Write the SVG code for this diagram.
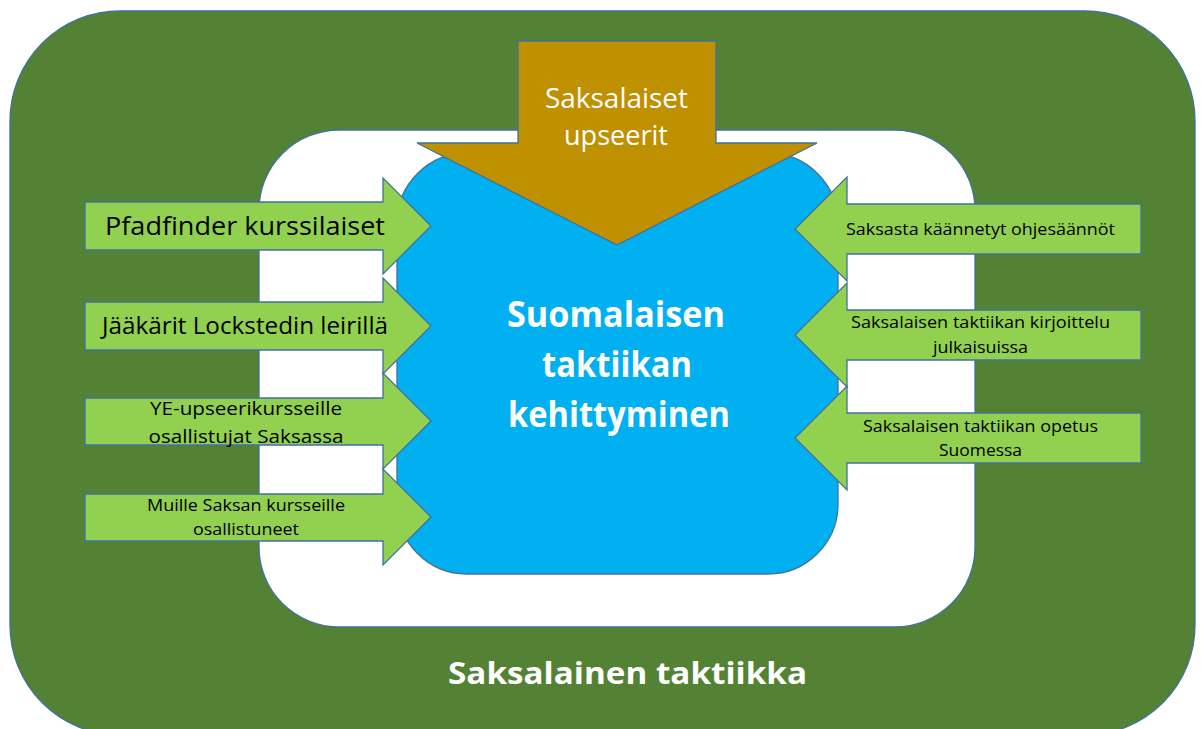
<svg xmlns="http://www.w3.org/2000/svg" width="1201" height="729" viewBox="0 0 1201 729">
<style>
.sh{stroke:#41719C;stroke-width:1.3}
.outer{fill:#548235}
.inner{fill:#FFFFFF}
.core{fill:#00B0F0}
.gold{fill:#BF9000}
.arr{fill:#92D050}
.t{font-family:"Open Sans","Noto Sans","Liberation Sans",sans-serif;text-anchor:middle}
.dk{fill:#000000}
.wh{fill:#FFFFFF}
.b{font-weight:bold}
</style>
<rect width="1201" height="729" fill="#FFFFFF"/>
<g id="outer-context">
<rect class="outer sh" x="10" y="11" width="1185" height="724" rx="110" ry="110"/>
<text class="t wh b" x="627.5" y="684" font-size="30" textLength="359" lengthAdjust="spacingAndGlyphs">Saksalainen taktiikka</text>
</g>
<g id="inner-area">
<rect class="inner sh" x="259" y="130" width="716" height="497" rx="80" ry="80"/>
</g>
<g id="core">
<rect class="core sh" x="397" y="153" width="441" height="421" rx="70" ry="70"/>
<text class="t wh b" x="616" y="327" font-size="35" textLength="218" lengthAdjust="spacingAndGlyphs">Suomalaisen</text>
<text class="t wh b" x="617" y="377" font-size="35" textLength="150" lengthAdjust="spacingAndGlyphs">taktiikan</text>
<text class="t wh b" x="619" y="427" font-size="35" textLength="222" lengthAdjust="spacingAndGlyphs">kehittyminen</text>
</g>
<g id="connectors">
<g id="gold-arrow">
<polygon class="gold sh" points="518,41 716,41 716,143 817,143 617,245 417,143 518,143"/>
<text class="t wh" x="616.5" y="108" font-size="27" textLength="143" lengthAdjust="spacingAndGlyphs">Saksalaiset</text>
<text class="t wh" x="616" y="145" font-size="27" textLength="104" lengthAdjust="spacingAndGlyphs">upseerit</text>
</g>
<g id="arrow-l1">
<polygon class="arr sh" points="85,202 383,202 383,178 431,226 383,274 383,250 85,250"/>
<text class="t dk" x="245" y="235" font-size="25" textLength="280" lengthAdjust="spacingAndGlyphs">Pfadfinder kurssilaiset</text>
</g>
<g id="arrow-l2">
<polygon class="arr sh" points="85,302 383,302 383,278 431,326 383,374 383,350 85,350"/>
<text class="t dk" x="245" y="334" font-size="23" textLength="286" lengthAdjust="spacingAndGlyphs">Jääkärit Lockstedin leirillä</text>
</g>
<g id="arrow-l3">
<polygon class="arr sh" points="85,398 383,398 383,373 431,421 383,469 383,445 85,445"/>
<text class="t dk" x="246" y="415" font-size="19" textLength="192" lengthAdjust="spacingAndGlyphs">YE-upseerikursseille</text>
<text class="t dk" x="246" y="443" font-size="19" textLength="195" lengthAdjust="spacingAndGlyphs">osallistujat Saksassa</text>
</g>
<g id="arrow-l4">
<polygon class="arr sh" points="85,494 383,494 383,469 431,517 383,565 383,541 85,541"/>
<text class="t dk" x="246" y="511" font-size="17" textLength="198" lengthAdjust="spacingAndGlyphs">Muille Saksan kursseille</text>
<text class="t dk" x="246" y="535" font-size="17" textLength="106" lengthAdjust="spacingAndGlyphs">osallistuneet</text>
</g>
<g id="arrow-r1">
<polygon class="arr sh" points="1141,204 847,204 847,177 795,229 847,281 847,254 1141,254"/>
<text class="t dk" x="980.5" y="235" font-size="17" textLength="269" lengthAdjust="spacingAndGlyphs">Saksasta käännetyt ohjesäännöt</text>
</g>
<g id="arrow-r2">
<polygon class="arr sh" points="1141,310 847,310 847,283 795,335 847,387 847,360 1141,360"/>
<text class="t dk" x="980.5" y="328" font-size="17" textLength="259" lengthAdjust="spacingAndGlyphs">Saksalaisen taktiikan kirjoittelu</text>
<text class="t dk" x="980.5" y="353" font-size="17" textLength="95" lengthAdjust="spacingAndGlyphs">julkaisuissa</text>
</g>
<g id="arrow-r3">
<polygon class="arr sh" points="1141,413 847,413 847,386 795,438 847,490 847,463 1141,463"/>
<text class="t dk" x="980.5" y="432" font-size="17" textLength="235" lengthAdjust="spacingAndGlyphs">Saksalaisen taktiikan opetus</text>
<text class="t dk" x="980.5" y="456" font-size="17" textLength="83" lengthAdjust="spacingAndGlyphs">Suomessa</text>
</g>
</g>
</svg>
